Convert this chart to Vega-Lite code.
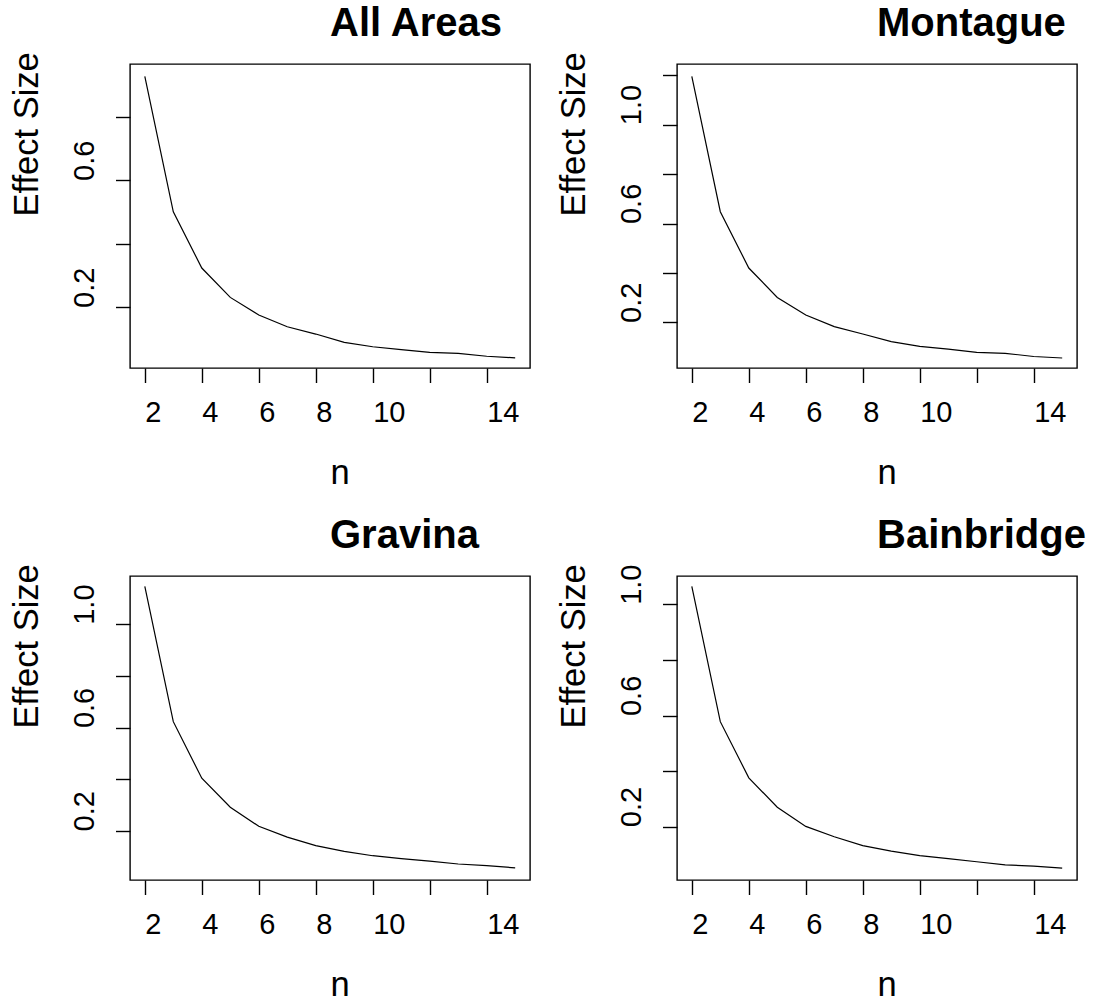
{
  "$schema": "https://vega.github.io/schema/vega-lite/v6.json",
  "padding": {"left": 8, "top": 3, "right": 0, "bottom": 0},
  "background": "white",
  "data": {"values": [
    {"panel": "All Areas", "n": 2, "effect": 0.928},
    {"panel": "All Areas", "n": 3, "effect": 0.501},
    {"panel": "All Areas", "n": 4, "effect": 0.324},
    {"panel": "All Areas", "n": 5, "effect": 0.2315},
    {"panel": "All Areas", "n": 6, "effect": 0.176},
    {"panel": "All Areas", "n": 7, "effect": 0.139},
    {"panel": "All Areas", "n": 8, "effect": 0.116},
    {"panel": "All Areas", "n": 9, "effect": 0.090},
    {"panel": "All Areas", "n": 10, "effect": 0.076},
    {"panel": "All Areas", "n": 11, "effect": 0.067},
    {"panel": "All Areas", "n": 12, "effect": 0.058},
    {"panel": "All Areas", "n": 13, "effect": 0.055},
    {"panel": "All Areas", "n": 14, "effect": 0.046},
    {"panel": "All Areas", "n": 15, "effect": 0.041},
    {"panel": "Montague", "n": 2, "effect": 1.1955},
    {"panel": "Montague", "n": 3, "effect": 0.648},
    {"panel": "Montague", "n": 4, "effect": 0.420},
    {"panel": "Montague", "n": 5, "effect": 0.301},
    {"panel": "Montague", "n": 6, "effect": 0.230},
    {"panel": "Montague", "n": 7, "effect": 0.183},
    {"panel": "Montague", "n": 8, "effect": 0.153},
    {"panel": "Montague", "n": 9, "effect": 0.122},
    {"panel": "Montague", "n": 10, "effect": 0.103},
    {"panel": "Montague", "n": 11, "effect": 0.092},
    {"panel": "Montague", "n": 12, "effect": 0.079},
    {"panel": "Montague", "n": 13, "effect": 0.075},
    {"panel": "Montague", "n": 14, "effect": 0.062},
    {"panel": "Montague", "n": 15, "effect": 0.056},
    {"panel": "Gravina", "n": 2, "effect": 1.147},
    {"panel": "Gravina", "n": 3, "effect": 0.623},
    {"panel": "Gravina", "n": 4, "effect": 0.404},
    {"panel": "Gravina", "n": 5, "effect": 0.292},
    {"panel": "Gravina", "n": 6, "effect": 0.218},
    {"panel": "Gravina", "n": 7, "effect": 0.176},
    {"panel": "Gravina", "n": 8, "effect": 0.143},
    {"panel": "Gravina", "n": 9, "effect": 0.121},
    {"panel": "Gravina", "n": 10, "effect": 0.104},
    {"panel": "Gravina", "n": 11, "effect": 0.093},
    {"panel": "Gravina", "n": 12, "effect": 0.083},
    {"panel": "Gravina", "n": 13, "effect": 0.072},
    {"panel": "Gravina", "n": 14, "effect": 0.066},
    {"panel": "Gravina", "n": 15, "effect": 0.057},
    {"panel": "Bainbridge", "n": 2, "effect": 1.065},
    {"panel": "Bainbridge", "n": 3, "effect": 0.578},
    {"panel": "Bainbridge", "n": 4, "effect": 0.376},
    {"panel": "Bainbridge", "n": 5, "effect": 0.270},
    {"panel": "Bainbridge", "n": 6, "effect": 0.201},
    {"panel": "Bainbridge", "n": 7, "effect": 0.164},
    {"panel": "Bainbridge", "n": 8, "effect": 0.132},
    {"panel": "Bainbridge", "n": 9, "effect": 0.112},
    {"panel": "Bainbridge", "n": 10, "effect": 0.096},
    {"panel": "Bainbridge", "n": 11, "effect": 0.085},
    {"panel": "Bainbridge", "n": 12, "effect": 0.074},
    {"panel": "Bainbridge", "n": 13, "effect": 0.063},
    {"panel": "Bainbridge", "n": 14, "effect": 0.058},
    {"panel": "Bainbridge", "n": 15, "effect": 0.051}
  ]},
  "columns": 2,
  "spacing": {"row": 208, "column": 147},
  "bounds": "flush",
  "concat": [
    {
      "width": 400, "height": 304,
      "title": {"text": "All Areas", "anchor": "middle", "align": "left", "offset": 7.7},
      "transform": [{"filter": "datum.panel == 'All Areas'"}],
      "mark": {"type": "line", "color": "black", "strokeWidth": 1.2},
      "encoding": {
        "x": {"field": "n", "type": "quantitative", "scale": {"domain": [1.48, 15.52], "nice": false, "zero": false},
              "axis": {"values": [2, 4, 6, 8, 10, 12, 14], "labelExpr": "datum.value == 12 ? '' : datum.label", "title": "n"}},
        "y": {"field": "effect", "type": "quantitative", "scale": {"domain": [0.009, 0.967], "nice": false, "zero": false},
              "axis": {"values": [0.2, 0.4, 0.6, 0.8], "format": ".1f", "labelExpr": "(datum.value == 0.2 || datum.value == 0.6) ? datum.label : ''", "title": "Effect Size"}}
      }
    },
    {
      "width": 400, "height": 304,
      "title": {"text": "Montague", "anchor": "middle", "align": "left", "offset": 7.7},
      "transform": [{"filter": "datum.panel == 'Montague'"}],
      "mark": {"type": "line", "color": "black", "strokeWidth": 1.2},
      "encoding": {
        "x": {"field": "n", "type": "quantitative", "scale": {"domain": [1.48, 15.52], "nice": false, "zero": false},
              "axis": {"values": [2, 4, 6, 8, 10, 12, 14], "labelExpr": "datum.value == 12 ? '' : datum.label", "title": "n"}},
        "y": {"field": "effect", "type": "quantitative", "scale": {"domain": [0.0155, 1.2456], "nice": false, "zero": false},
              "axis": {"values": [0.2, 0.4, 0.6, 0.8, 1.0, 1.2], "format": ".1f", "labelExpr": "(datum.value == 0.2 || datum.value == 0.6 || datum.value == 1) ? datum.label : ''", "title": "Effect Size"}}
      }
    },
    {
      "width": 400, "height": 304,
      "title": {"text": "Gravina", "anchor": "middle", "align": "left", "offset": 7.7},
      "transform": [{"filter": "datum.panel == 'Gravina'"}],
      "mark": {"type": "line", "color": "black", "strokeWidth": 1.2},
      "encoding": {
        "x": {"field": "n", "type": "quantitative", "scale": {"domain": [1.48, 15.52], "nice": false, "zero": false},
              "axis": {"values": [2, 4, 6, 8, 10, 12, 14], "labelExpr": "datum.value == 12 ? '' : datum.label", "title": "n"}},
        "y": {"field": "effect", "type": "quantitative", "scale": {"domain": [0.010, 1.187], "nice": false, "zero": false},
              "axis": {"values": [0.2, 0.4, 0.6, 0.8, 1.0], "format": ".1f", "labelExpr": "(datum.value == 0.2 || datum.value == 0.6 || datum.value == 1) ? datum.label : ''", "title": "Effect Size"}}
      }
    },
    {
      "width": 400, "height": 304,
      "title": {"text": "Bainbridge", "anchor": "middle", "align": "left", "offset": 7.7},
      "transform": [{"filter": "datum.panel == 'Bainbridge'"}],
      "mark": {"type": "line", "color": "black", "strokeWidth": 1.2},
      "encoding": {
        "x": {"field": "n", "type": "quantitative", "scale": {"domain": [1.48, 15.52], "nice": false, "zero": false},
              "axis": {"values": [2, 4, 6, 8, 10, 12, 14], "labelExpr": "datum.value == 12 ? '' : datum.label", "title": "n"}},
        "y": {"field": "effect", "type": "quantitative", "scale": {"domain": [0.0083, 1.102], "nice": false, "zero": false},
              "axis": {"values": [0.2, 0.4, 0.6, 0.8, 1.0], "format": ".1f", "labelExpr": "(datum.value == 0.2 || datum.value == 0.6 || datum.value == 1) ? datum.label : ''", "title": "Effect Size"}}
      }
    }
  ],
  "config": {
    "font": "Liberation Sans",
    "view": {"stroke": "black", "strokeWidth": 1.4},
    "axis": {
      "domain": false, "grid": false, "ticks": true,
      "tickColor": "black", "tickSize": 14.5, "tickWidth": 1.4,
      "labelFont": "Liberation Sans", "labelFontSize": 29, "labelColor": "black",
      "labelFlush": false, "labelOverlap": false, "labelBound": false,
      "titleFont": "Liberation Sans", "titleFontSize": 34.5, "titleFontWeight": "normal", "titleColor": "black",
      "titleAlign": "left", "titleBaseline": "alphabetic"
    },
    "axisX": {"labelAlign": "left", "labelBaseline": "alphabetic", "labelPadding": 39, "labelAngle": 0, "titleX": 200, "titleY": 115, "titleAngle": 0},
    "axisY": {"labelAngle": 270, "labelAlign": "left", "labelBaseline": "alphabetic", "labelPadding": 22.5, "titleAngle": 270, "titleX": -93, "titleY": 152},
    "title": {"font": "Liberation Sans", "fontSize": 40, "fontWeight": "bold", "color": "black", "baseline": "alphabetic", "frame": "group"}
  }
}
